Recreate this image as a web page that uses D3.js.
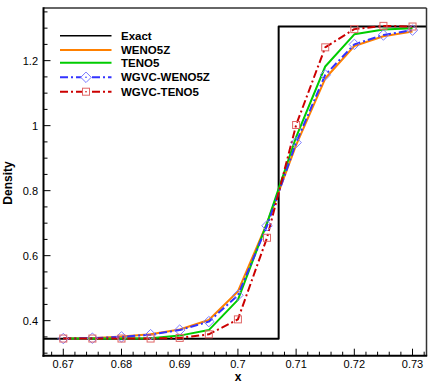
<!DOCTYPE html>
<html><head><meta charset="utf-8">
<script src="https://cdn.jsdelivr.net/npm/d3@7"></script>
<style>body{margin:0;background:#fff}svg{display:block}</style>
</head><body>
<svg id="c" width="436" height="388"></svg>
<script>
const xs = [0.67,0.675,0.68,0.685,0.69,0.695,0.7,0.705,0.71,0.715,0.72,0.725,0.73];
const exactX = [0.6666,0.707,0.707,0.7324];
const exactY = [0.344,0.344,1.305,1.305];
const weno5z = [0.345,0.346,0.351,0.358,0.373,0.402,0.49,0.70,0.94,1.145,1.245,1.275,1.29];
const teno5 = [0.345,0.345,0.345,0.346,0.354,0.371,0.464,0.70,0.965,1.182,1.281,1.296,1.30];
const wgvcWeno5z = [0.345,0.346,0.35,0.357,0.371,0.397,0.478,0.692,0.948,1.156,1.25,1.279,1.294];
const wgvcTeno5 = [0.345,0.345,0.345,0.345,0.347,0.358,0.404,0.655,1.002,1.241,1.297,1.307,1.305];
const xTicks = [0.67,0.68,0.69,0.7,0.71,0.72,0.73];
const yTicks = [0.4,0.6,0.8,1,1.2];
const names = ["Exact","WENO5Z","TENO5","WGVC-WENO5Z","WGVC-TENO5"];

const svg = d3.select("#c");
const L=43.5,R=426.5,T=8,B=355.7;
const x = d3.scaleLinear().domain([0.6666,0.7324]).range([L,R]);
const y = d3.scaleLinear().domain([0.2922,1.362]).range([B,T]);
const font = "Liberation Sans, Arial, sans-serif";

svg.append("clipPath").attr("id","cl").append("rect").attr("x",L).attr("y",T).attr("width",R-L).attr("height",B-T);

const g = svg.append("g").attr("clip-path","url(#cl)");
const line = d3.line().x(d=>x(d[0])).y(d=>y(d[1]));
function path(data,color,w,dash){
  g.append("path").datum(data).attr("d",line).attr("fill","none").attr("stroke",color)
   .attr("stroke-width",w).attr("stroke-dasharray",dash||null).attr("stroke-linejoin","round");
}
path(exactX.map((v,i)=>[v,exactY[i]]),"#000",2);
path(xs.map((v,i)=>[v,weno5z[i]]),"#ff8000",2);
path(xs.map((v,i)=>[v,teno5[i]]),"#00cc00",2);
path(xs.map((v,i)=>[v,wgvcWeno5z[i]]),"#3333ff",2,"8,3,2,3");
path(xs.map((v,i)=>[v,wgvcTeno5[i]]),"#cc0000",2,"8,3,2,3");
const diamond = d3.symbol().type(d3.symbolDiamond2).size(70);
g.selectAll(".dm").data(xs.map((v,i)=>[v,wgvcWeno5z[i]])).enter().append("path")
  .attr("d",diamond).attr("transform",d=>`translate(${x(d[0])},${y(d[1])})`)
  .attr("fill","none").attr("stroke","#7a7aff").attr("stroke-width",1);
g.selectAll(".sq").data(xs.map((v,i)=>[v,wgvcTeno5[i]])).enter().append("rect")
  .attr("x",d=>x(d[0])-3.5).attr("y",d=>y(d[1])-3.5).attr("width",7).attr("height",7)
  .attr("fill","none").attr("stroke","#e06666").attr("stroke-width",1);

// frame
svg.append("line").attr("x1",L).attr("x2",R).attr("y1",T).attr("y2",T).attr("stroke","#333").attr("stroke-width",1.5);
svg.append("line").attr("x1",R).attr("x2",R).attr("y1",T).attr("y2",B).attr("stroke","#333").attr("stroke-width",1.5);

// axes
const xAxis = svg.append("g");
d3.range(0.668,0.7325,0.002).forEach(v=>{
  const major = xTicks.some(t=>Math.abs(t-v)<1e-6);
  xAxis.append("line").attr("x1",x(v)).attr("x2",x(v)).attr("y1",B).attr("y2",B-(major?7:4)).attr("stroke","#000").attr("stroke-width",1);
});
xTicks.forEach(t=>{
  xAxis.append("text").attr("x",x(t)).attr("y",368).attr("text-anchor","middle")
   .attr("font-family",font).attr("font-size",11).text(d3.format("")(t));
});
const yAxis = svg.append("g");
d3.range(0.3,1.36,0.05).forEach(v=>{
  const major = yTicks.some(t=>Math.abs(t-v)<1e-6);
  yAxis.append("line").attr("x1",L).attr("x2",L+(major?7:4)).attr("y1",y(v)).attr("y2",y(v)).attr("stroke","#000").attr("stroke-width",1);
});
yTicks.forEach(t=>{
  yAxis.append("text").attr("x",38).attr("y",y(t)+4).attr("text-anchor","end")
   .attr("font-family",font).attr("font-size",11).text(d3.format("")(t));
});
svg.append("line").attr("x1",L).attr("x2",L).attr("y1",T-0.7).attr("y2",B+1).attr("stroke","#000").attr("stroke-width",2);
svg.append("line").attr("x1",L-1).attr("x2",R+0.7).attr("y1",B).attr("y2",B).attr("stroke","#000").attr("stroke-width",2);

svg.append("text").attr("x",238).attr("y",381).attr("text-anchor","middle").attr("font-family",font)
  .attr("font-weight","bold").attr("font-size",12).text("x");
svg.append("text").attr("transform","translate(12,183) rotate(-90)").attr("text-anchor","middle").attr("font-family",font)
  .attr("font-weight","bold").attr("font-size",12).text("Density");

// legend
const ly = [35.7,50,62.7,77.3,91.7];
const lc = ["#000","#ff8000","#00cc00","#3333ff","#cc0000"];
const ld = [null,null,null,"8,3,2,3","8,3,2,3"];
const leg = svg.append("g");
names.forEach((n,i)=>{
  leg.append("line").attr("x1",60).attr("x2",111.5).attr("y1",ly[i]).attr("y2",ly[i]).attr("stroke",lc[i])
    .attr("stroke-width",i===0?1.5:2).attr("stroke-dasharray",ld[i]);
  leg.append("text").attr("x",121).attr("y",ly[i]+4).attr("font-family",font).attr("font-weight","bold")
    .attr("font-size",11.5).text(n);
});
leg.append("path").attr("d",diamond).attr("transform",`translate(86,${ly[3]})`).attr("fill","#fff").attr("stroke","#7a7aff");
leg.append("circle").attr("cx",86).attr("cy",ly[3]).attr("r",0.8).attr("fill","#3333ff");
leg.append("rect").attr("x",82.5).attr("y",ly[4]-3.5).attr("width",7).attr("height",7).attr("fill","#fff").attr("stroke","#e06666");
leg.append("circle").attr("cx",86).attr("cy",ly[4]).attr("r",0.8).attr("fill","#cc0000");
</script>
</body></html>
